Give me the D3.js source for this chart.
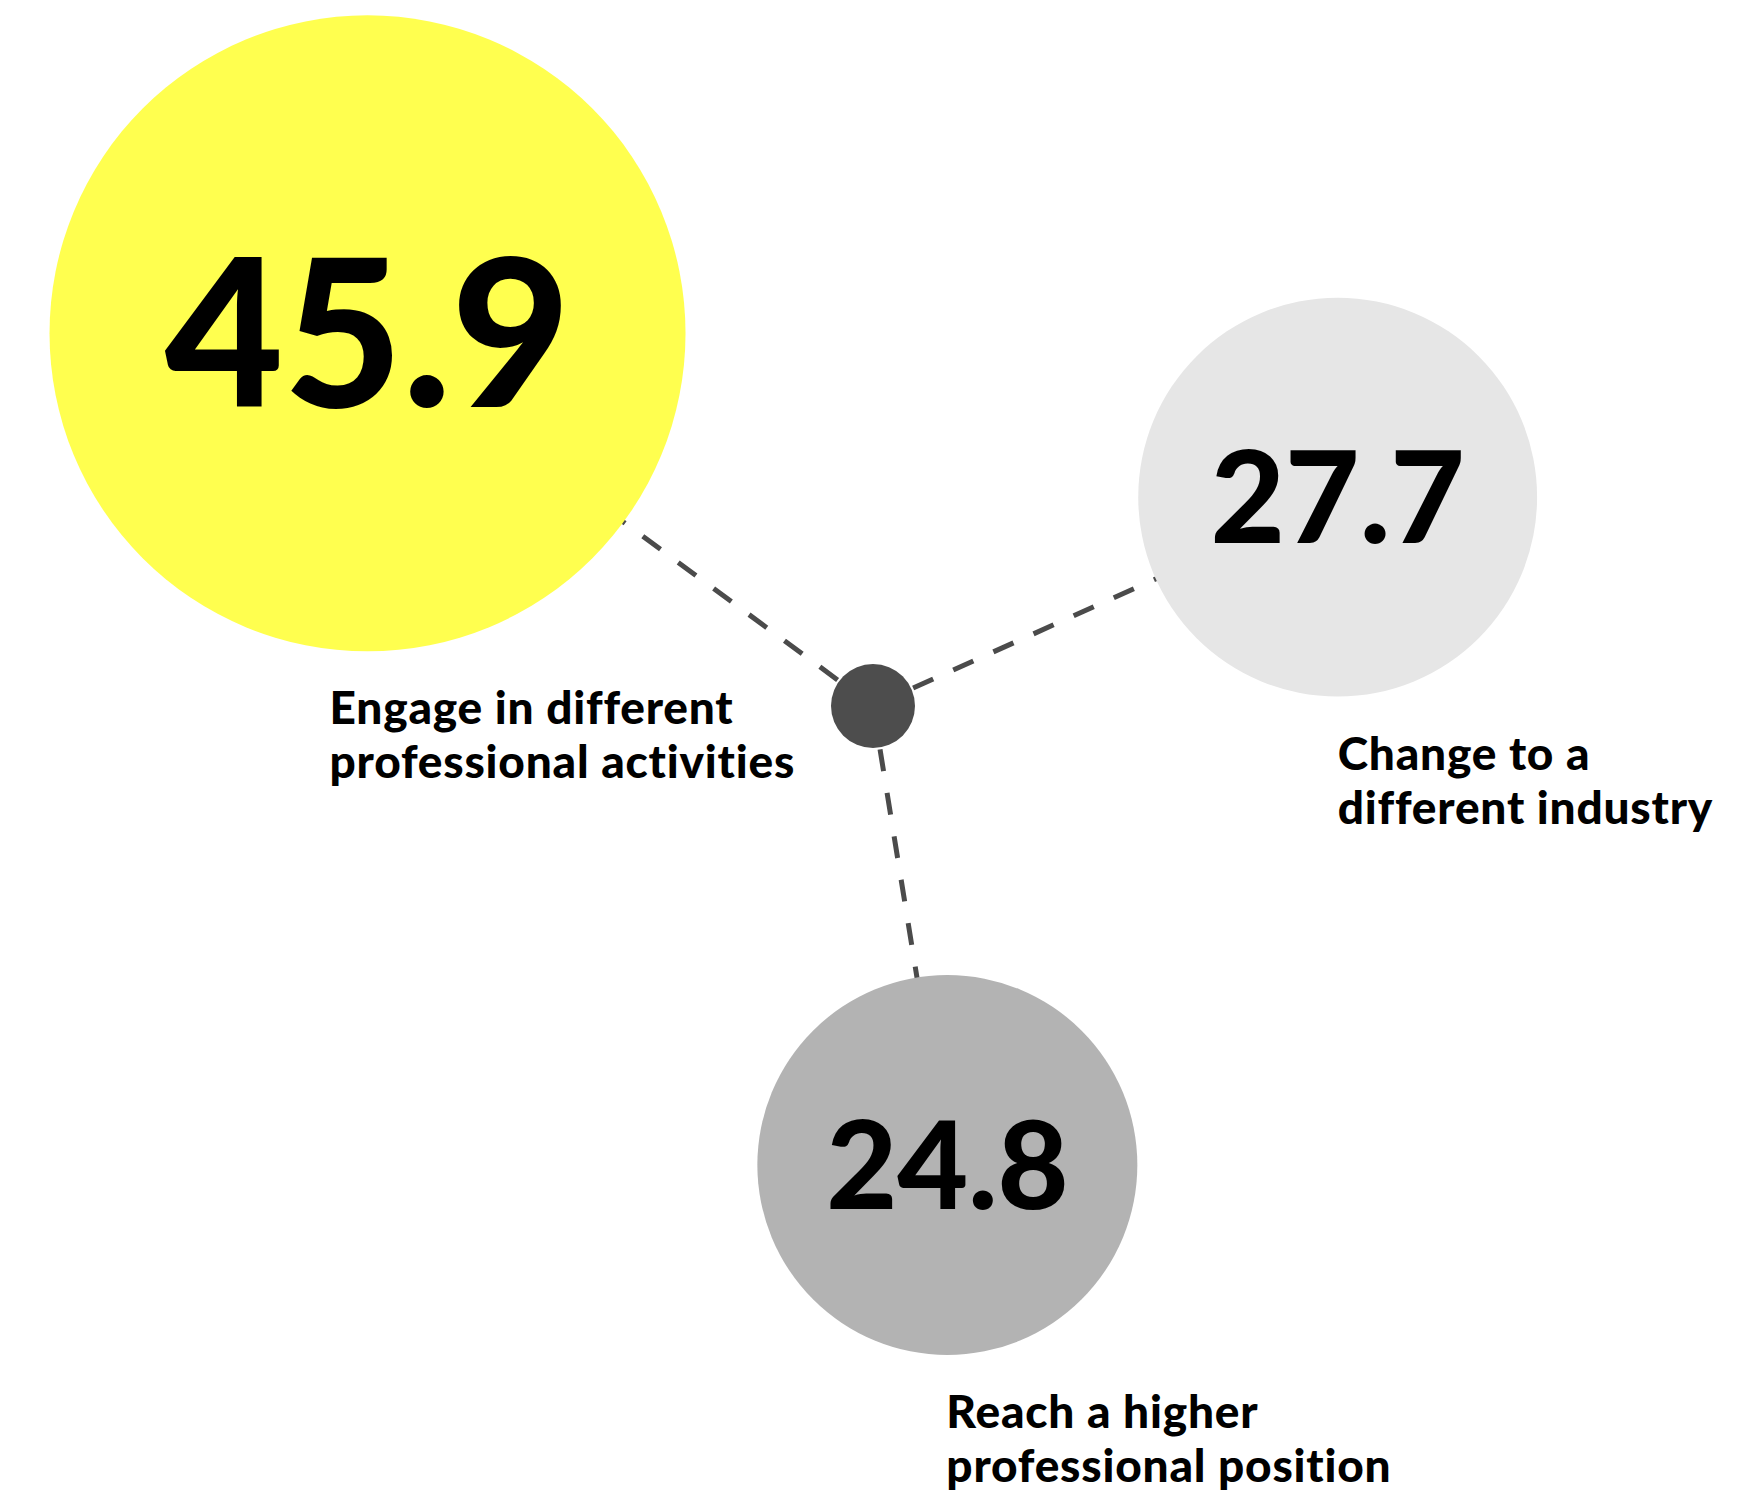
<!DOCTYPE html>
<html lang="en">
<head>
    <meta charset="UTF-8">
    <title>Career goals</title>
    <script src="https://d3js.org/d3.v7.min.js"></script>
    <style>
        body { margin: 0; background: #fff; }
    </style>
</head>
<body>
    <div id="chart"></div>

    <script type="text/javascript">
        // data
        var labels = [
            ["Engage in different", "professional activities"],
            ["Change to a", "different industry"],
            ["Reach a higher", "professional position"]
        ];
        var values = [45.9, 27.7, 24.8];
        var colors = ["#ffff4f", "#e6e6e6", "#b3b3b3"];

        // layout around the hub (angle in degrees from 12 o'clock, gap from hub edge)
        var angles = [-53.6, 65.8, 170.8];
        var gaps = [268, 268, 233];
        var labelShift = [-38, 0, -1];

        var width = 1761, height = 1492;
        var hub = { x: 873, y: 706, r: 42 };

        var svg = d3.select("#chart")
            .append("svg")
            .attr("width", width)
            .attr("height", height);

        var radius = d3.scalePow().exponent(3)
            .domain(d3.extent(values))
            .range([190, 318]);

        var nodes = values.map(function(v, i) {
            var r = radius(v);
            var p = d3.pointRadial(angles[i] * Math.PI / 180, hub.r + gaps[i] + r);
            return { value: v, r: r, x: hub.x + p[0], y: hub.y + p[1], label: labels[i], color: colors[i], shift: labelShift[i] };
        });

        // dashed spokes, drawn under everything
        svg.selectAll("line.spoke")
            .data(nodes)
            .enter()
            .append("line")
            .attr("class", "spoke")
            .attr("x1", hub.x)
            .attr("y1", hub.y)
            .attr("x2", function(d) { return d.x; })
            .attr("y2", function(d) { return d.y; })
            .attr("stroke", "#4b4b4b")
            .attr("stroke-width", 5)
            .attr("stroke-dasharray", "22,22");

        svg.append("circle")
            .attr("cx", hub.x)
            .attr("cy", hub.y)
            .attr("r", hub.r)
            .attr("fill", "#4d4d4d");

        var g = svg.selectAll("g.node")
            .data(nodes)
            .enter()
            .append("g")
            .attr("class", "node");

        g.append("circle")
            .attr("cx", function(d) { return d.x; })
            .attr("cy", function(d) { return d.y; })
            .attr("r", function(d) { return d.r; })
            .attr("fill", function(d) { return d.color; });

        g.append("text")
            .attr("x", function(d) { return d.x; })
            .attr("y", function(d) { return d.y + d.r * 0.645 * 0.36; })
            .attr("text-anchor", "middle")
            .style("font-family", "Lato, 'Open Sans', sans-serif")
            .style("font-weight", 900)
            .style("font-size", function(d) { return (d.r * 0.645) + "px"; })
            .attr("fill", "#000")
            .text(function(d) { return d.value.toFixed(1); });

        // two-line labels under each bubble
        var lbl = g.append("text")
            .attr("x", function(d) { return d.x + d.shift; })
            .attr("y", function(d) { return d.y + d.r + 73; })
            .style("font-family", "Lato, 'Open Sans', sans-serif")
            .style("font-weight", 900)
            .style("font-size", "46px")
            .style("letter-spacing", "0.8px")
            .attr("fill", "#000");

        lbl.selectAll("tspan")
            .data(function(d) { return d.label.map(function(t) { return { t: t, x: d.x + d.shift }; }); })
            .enter()
            .append("tspan")
            .attr("x", function(d) { return d.x; })
            .attr("dy", function(d, i) { return i === 0 ? 0 : 54; })
            .text(function(d) { return d.t; });
    </script>
</body>
</html>
